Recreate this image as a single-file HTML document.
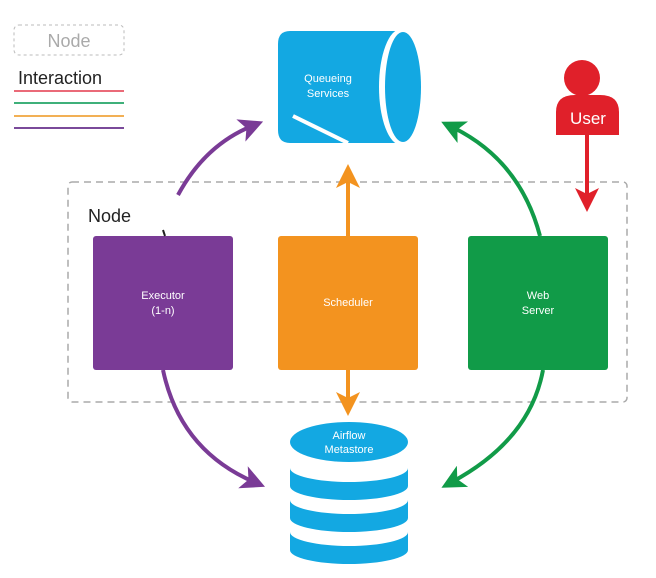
<!DOCTYPE html>
<html><head><meta charset="utf-8"><style>
body{margin:0;background:#fff}
svg{display:block;font-family:"Liberation Sans",sans-serif}
</style></head><body>
<svg width="656" height="578" viewBox="0 0 656 578">
<defs>
<marker id="mp" markerWidth="6" markerHeight="6" refX="3" refY="3" orient="auto" markerUnits="strokeWidth"><path d="M0,0 L6,3 L0,6 L1.5,3z" fill="#7a3b96"/></marker>
<marker id="mg" markerWidth="6" markerHeight="6" refX="3" refY="3" orient="auto" markerUnits="strokeWidth"><path d="M0,0 L6,3 L0,6 L1.5,3z" fill="#119b48"/></marker>
<marker id="mo" markerWidth="6" markerHeight="6" refX="3" refY="3" orient="auto" markerUnits="strokeWidth"><path d="M0,0 L6,3 L0,6 L1.5,3z" fill="#f3931f"/></marker>
<marker id="mr" markerWidth="6" markerHeight="6" refX="3" refY="3" orient="auto" markerUnits="strokeWidth"><path d="M0,0 L6,3 L0,6 L1.5,3z" fill="#e0202a"/></marker>
</defs>
<!-- legend -->
<rect x="14" y="25" width="110" height="30" rx="5" fill="none" stroke="#bbb" stroke-dasharray="3,3"/>
<text x="69" y="47" font-size="18" fill="#aaa" text-anchor="middle">Node</text>
<text x="18" y="84" font-size="18" fill="#222">Interaction</text>
<line x1="14" y1="91" x2="124" y2="91" stroke="#ea6a78" stroke-width="2"/>
<line x1="14" y1="103" x2="124" y2="103" stroke="#3fb07a" stroke-width="2"/>
<line x1="14" y1="116" x2="124" y2="116" stroke="#f2b055" stroke-width="2"/>
<line x1="14" y1="128" x2="124" y2="128" stroke="#7a4a9a" stroke-width="2"/>
<!-- node box -->
<rect x="68" y="182" width="559" height="220" rx="4" fill="none" stroke="#aaa" stroke-dasharray="7,5" stroke-width="1.5"/>
<text x="88" y="222" font-size="18" fill="#222">Node</text>
<!-- queue -->
<path d="M290,31 L398,31 L398,143 L290,143 Q278,143 278,130 L278,44 Q278,31 290,31z" fill="#13a8e2"/>
<ellipse cx="401" cy="87" rx="22" ry="58" fill="#fff"/>
<ellipse cx="403" cy="87" rx="18" ry="55" fill="#13a8e2"/>
<line x1="293" y1="116" x2="348" y2="143" stroke="#fff" stroke-width="4"/>
<text x="328" y="82" font-size="11" fill="#fff" text-anchor="middle">Queueing</text>
<text x="328" y="97" font-size="11" fill="#fff" text-anchor="middle">Services</text>
<!-- user -->
<circle cx="582" cy="78" r="18" fill="#e0202a"/>
<path d="M556,135 L556,112 Q556,95 575,95 L600,95 Q619,95 619,112 L619,135z" fill="#e0202a"/>
<text x="588" y="124" font-size="17" fill="#fff" text-anchor="middle">User</text>
<line x1="587" y1="135" x2="587" y2="200" stroke="#e0202a" stroke-width="4" marker-end="url(#mr)"/>
<!-- boxes -->
<rect x="93" y="236" width="140" height="134" rx="3" fill="#7a3b96"/>
<text x="163" y="299" font-size="11" fill="#fff" text-anchor="middle">Executor</text>
<text x="163" y="314" font-size="11" fill="#fff" text-anchor="middle">(1-n)</text>
<rect x="278" y="236" width="140" height="134" rx="3" fill="#f3931f"/>
<text x="348" y="306" font-size="11" fill="#fff" text-anchor="middle">Scheduler</text>
<rect x="468" y="236" width="140" height="134" rx="3" fill="#119b48"/>
<text x="538" y="299" font-size="11" fill="#fff" text-anchor="middle">Web</text>
<text x="538" y="314" font-size="11" fill="#fff" text-anchor="middle">Server</text>
<line x1="163" y1="230" x2="165" y2="236" stroke="#222" stroke-width="2"/>
<!-- arrows -->
<line x1="348" y1="236" x2="348" y2="176" stroke="#f3931f" stroke-width="4" marker-end="url(#mo)"/>
<line x1="348" y1="370" x2="348" y2="404" stroke="#f3931f" stroke-width="4" marker-end="url(#mo)"/>
<path d="M178,195 Q205,145 252,126" fill="none" stroke="#7a3b96" stroke-width="4" marker-end="url(#mp)"/>
<path d="M540,236 Q520,160 452,127" fill="none" stroke="#119b48" stroke-width="4" marker-end="url(#mg)"/>
<path d="M163,370 Q180,450 254,482" fill="none" stroke="#7a3b96" stroke-width="4" marker-end="url(#mp)"/>
<path d="M543,370 Q530,440 452,482" fill="none" stroke="#119b48" stroke-width="4" marker-end="url(#mg)"/>
<!-- metastore -->
<path d="M290,532 L290,550 A59,14 0 0 0 408,550 L408,532 A59,14 0 0 1 290,532z" fill="#13a8e2"/>
<path d="M290,500 L290,518 A59,14 0 0 0 408,518 L408,500 A59,14 0 0 1 290,500z" fill="#13a8e2"/>
<path d="M290,468 L290,486 A59,14 0 0 0 408,486 L408,468 A59,14 0 0 1 290,468z" fill="#13a8e2"/>
<ellipse cx="349" cy="442" rx="59" ry="20" fill="#13a8e2"/>
<text x="349" y="439" font-size="11" fill="#fff" text-anchor="middle">Airflow</text>
<text x="349" y="453" font-size="11" fill="#fff" text-anchor="middle">Metastore</text>
</svg>
</body></html>
